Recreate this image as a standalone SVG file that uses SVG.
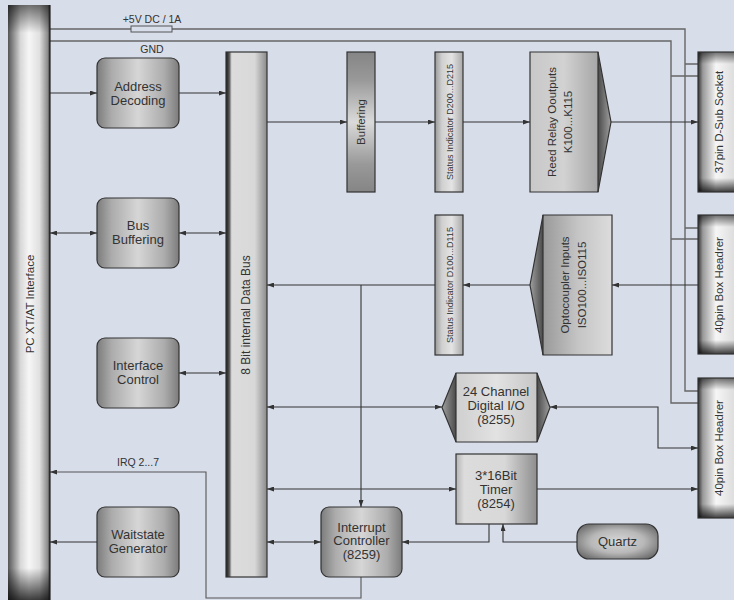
<svg xmlns="http://www.w3.org/2000/svg" width="734" height="600" viewBox="0 0 734 600">
<defs>
<style>
text{font-family:"Liberation Sans",Arial,sans-serif;fill:#333;}
.bt{font-size:13px;text-anchor:middle;}
.sm{font-size:10.5px;text-anchor:middle;}
.rt{font-size:11.5px;text-anchor:middle;}
.st{font-size:9.5px;text-anchor:middle;}
.ol{stroke:#333;stroke-width:1.2;}
.ln{fill:none;stroke:#333;stroke-width:1.1;}
.pw{fill:none;stroke:#666;stroke-width:1.4;}
</style>
<marker id="ah" viewBox="0 0 7 5" refX="7" refY="2.5" markerWidth="7" markerHeight="5" markerUnits="userSpaceOnUse" orient="auto-start-reverse"><path d="M0,0 L7,2.5 L0,5 z" fill="#333"/></marker>
<linearGradient id="gBox" x1="0" y1="0" x2="1" y2="0">
<stop offset="0" stop-color="#7c7c7c"/><stop offset="0.18" stop-color="#acacac"/><stop offset="0.5" stop-color="#d6d6d6"/><stop offset="0.82" stop-color="#acacac"/><stop offset="1" stop-color="#7c7c7c"/></linearGradient>
<linearGradient id="gPC" x1="0" y1="0" x2="1" y2="0">
<stop offset="0" stop-color="#555"/><stop offset="0.3" stop-color="#d8d8d8"/><stop offset="0.5" stop-color="#f6f6f6"/><stop offset="0.75" stop-color="#e0e0e0"/><stop offset="0.95" stop-color="#8a8a8a"/><stop offset="1" stop-color="#222"/></linearGradient>
<linearGradient id="gEndT" x1="0" y1="0" x2="0" y2="1">
<stop offset="0" stop-color="#000" stop-opacity="0.55"/><stop offset="1" stop-color="#000" stop-opacity="0"/></linearGradient>
<linearGradient id="gEndB" x1="0" y1="0" x2="0" y2="1">
<stop offset="0" stop-color="#000" stop-opacity="0"/><stop offset="1" stop-color="#000" stop-opacity="0.75"/></linearGradient>
<linearGradient id="gBus" x1="0" y1="0" x2="1" y2="0">
<stop offset="0" stop-color="#1a1a1a"/><stop offset="0.08" stop-color="#555"/><stop offset="0.14" stop-color="#dcdcdc"/><stop offset="0.7" stop-color="#d8d8d8"/><stop offset="1" stop-color="#8a8a8a"/></linearGradient>
<linearGradient id="gBuf" x1="0" y1="0" x2="0" y2="1">
<stop offset="0" stop-color="#858585"/><stop offset="0.2" stop-color="#999"/><stop offset="0.5" stop-color="#dadada"/><stop offset="0.8" stop-color="#999"/><stop offset="1" stop-color="#858585"/></linearGradient>
<linearGradient id="gStat" x1="0" y1="0" x2="1" y2="0">
<stop offset="0" stop-color="#999"/><stop offset="0.25" stop-color="#d0d0d0"/><stop offset="0.6" stop-color="#e4e4e4"/><stop offset="1" stop-color="#a8a8a8"/></linearGradient>
<linearGradient id="gConn" x1="0" y1="0" x2="1" y2="0">
<stop offset="0" stop-color="#333"/><stop offset="0.12" stop-color="#999"/><stop offset="0.45" stop-color="#f6f6f6"/><stop offset="1" stop-color="#d8d8d8"/></linearGradient>
<linearGradient id="gReed" x1="0" y1="0" x2="1" y2="0">
<stop offset="0" stop-color="#c8c8c8"/><stop offset="0.5" stop-color="#d2d2d2"/><stop offset="1" stop-color="#a6a6a6"/></linearGradient>
<linearGradient id="gOpto" x1="0" y1="0" x2="1" y2="0">
<stop offset="0" stop-color="#999"/><stop offset="0.5" stop-color="#c4c4c4"/><stop offset="1" stop-color="#dcdcdc"/></linearGradient>
<linearGradient id="gTriR" x1="0" y1="0" x2="1" y2="0">
<stop offset="0" stop-color="#4a4a4a"/><stop offset="1" stop-color="#a0a0a0"/></linearGradient>
<linearGradient id="gTriL" x1="0" y1="0" x2="1" y2="0">
<stop offset="0" stop-color="#a0a0a0"/><stop offset="1" stop-color="#4a4a4a"/></linearGradient>
<linearGradient id="gDio" x1="0" y1="0" x2="1" y2="0">
<stop offset="0" stop-color="#cfcfcf"/><stop offset="0.5" stop-color="#e2e2e2"/><stop offset="1" stop-color="#c6c6c6"/></linearGradient>
<linearGradient id="gTim" x1="0" y1="0" x2="1" y2="0">
<stop offset="0" stop-color="#b4b4b4"/><stop offset="0.1" stop-color="#dcdcdc"/><stop offset="0.6" stop-color="#d8d8d8"/><stop offset="1" stop-color="#8e8e8e"/></linearGradient>
<radialGradient id="gQ" cx="0.5" cy="0.5" r="0.6">
<stop offset="0" stop-color="#d8d8d8"/><stop offset="0.55" stop-color="#b8b8b8"/><stop offset="1" stop-color="#6e6e6e"/></radialGradient>
</defs>
<rect x="0" y="0" width="734" height="600" fill="#d7dde9"/>

<g id="connectors">
<path class="pw" d="M50,29 H685 V391 H698 M685,64 H698 M685,228 H698"/>
<path class="pw" d="M50,41 H671 V403 H698 M671,76 H698 M671,239 H698"/>
<rect x="131" y="26" width="41" height="6" fill="#d7dde9" stroke="#555" stroke-width="1"/>
<text class="sm" x="152" y="23">+5V DC / 1A</text>
<text class="sm" x="152" y="52.5">GND</text>
<path class="ln" d="M50,93 H97" marker-end="url(#ah)"/>
<path class="ln" d="M179,93 H226" marker-end="url(#ah)"/>
<path class="ln" d="M50,233 H97" marker-start="url(#ah)" marker-end="url(#ah)"/>
<path class="ln" d="M179,233 H226" marker-start="url(#ah)" marker-end="url(#ah)"/>
<path class="ln" d="M179,373 H226" marker-start="url(#ah)" marker-end="url(#ah)"/>
<path class="ln" style="stroke:#555" d="M361,577 V598 H206 V472 H50" marker-end="url(#ah)"/>
<text class="sm" x="138" y="466">IRQ 2...7</text>
<path class="ln" d="M97,542 H50" marker-end="url(#ah)"/>
<path class="ln" d="M267,122 H347" marker-end="url(#ah)"/>
<path class="ln" d="M375,122 H435" marker-end="url(#ah)"/>
<path class="ln" d="M463,122 H530" marker-end="url(#ah)"/>
<path class="ln" d="M611,122 H698" marker-end="url(#ah)"/>
<path class="ln" d="M698,285 H612" marker-end="url(#ah)"/>
<path class="ln" d="M530,285 H463" marker-end="url(#ah)"/>
<path class="ln" d="M435,285 H267" marker-end="url(#ah)"/>
<path class="ln" d="M361,285 V507" marker-end="url(#ah)"/>
<path class="ln" d="M267,407 H442" marker-start="url(#ah)" marker-end="url(#ah)"/>
<path class="ln" d="M550,407 H658 V448 H698" marker-start="url(#ah)" marker-end="url(#ah)"/>
<path class="ln" d="M267,489 H456" marker-start="url(#ah)" marker-end="url(#ah)"/>
<path class="ln" d="M537,489 H698" marker-end="url(#ah)"/>
<path class="ln" d="M267,542 H321" marker-start="url(#ah)" marker-end="url(#ah)"/>
<path class="ln" d="M489,524 V542 H402" marker-end="url(#ah)"/>
<path class="ln" d="M577,542 H503 V524" marker-end="url(#ah)"/>
</g>

<g id="pc">
<rect x="8" y="5" width="42" height="600" fill="url(#gPC)"/>
<rect x="8" y="5" width="42" height="28" fill="url(#gEndT)"/>
<rect x="8" y="568" width="42" height="32" fill="url(#gEndB)"/>
<line x1="50" y1="5" x2="50" y2="600" stroke="#222" stroke-width="1.2"/>
<text class="rt" transform="translate(30,304) rotate(-90)" dy="4">PC XT/AT Interface</text>
</g>

<g id="addr">
<rect class="ol" x="97" y="58" width="82" height="70" rx="8" fill="url(#gBox)"/>
<text class="bt" x="138" y="90.5">Address</text><text class="bt" x="138" y="104.5">Decoding</text>
</g>
<g id="busbuf">
<rect class="ol" x="97" y="198" width="82" height="70" rx="8" fill="url(#gBox)"/>
<text class="bt" x="138" y="229.5">Bus</text><text class="bt" x="138" y="243.5">Buffering</text>
</g>
<g id="ifctl">
<rect class="ol" x="97" y="338" width="82" height="70" rx="8" fill="url(#gBox)"/>
<text class="bt" x="138" y="369.5">Interface</text><text class="bt" x="138" y="383.5">Control</text>
</g>
<g id="wait">
<rect class="ol" x="97" y="507" width="82" height="70" rx="8" fill="url(#gBox)"/>
<text class="bt" x="138" y="538.5">Waitstate</text><text class="bt" x="138" y="552.5">Generator</text>
</g>

<g id="bus">
<rect class="ol" x="226" y="52" width="41" height="525" fill="url(#gBus)"/>
<text class="rt" style="font-size:12px" transform="translate(246,315) rotate(-90)" dy="4">8 Bit internal Data Bus</text>
</g>

<g id="buffering">
<rect class="ol" x="347" y="52" width="28" height="140" fill="url(#gBuf)"/>
<text class="rt" transform="translate(361,122) rotate(-90)" dy="4">Buffering</text>
</g>
<g id="stat2">
<rect class="ol" x="435" y="52" width="28" height="140" fill="url(#gStat)"/>
<text class="st" transform="translate(449,122) rotate(-90)" dy="3.5" textLength="116" lengthAdjust="spacingAndGlyphs">Status Indicator D200...D215</text>
</g>
<g id="reed">
<rect x="530" y="52" width="68" height="140" fill="url(#gReed)"/>
<polygon points="598,52 611,122 598,192" fill="url(#gTriR)"/>
<polygon class="ol" points="530,52 598,52 611,122 598,192 530,192" fill="none"/>
<line class="ol" x1="598" y1="52" x2="598" y2="192"/>
<text class="rt" transform="translate(552,122) rotate(-90)" dy="4">Reed Relay Ooutputs</text>
<text class="rt" transform="translate(568,122) rotate(-90)" dy="4">K100...K115</text>
</g>

<g id="stat1">
<rect class="ol" x="435" y="215" width="28" height="140" fill="url(#gStat)"/>
<text class="st" transform="translate(449,285) rotate(-90)" dy="3.5" textLength="116" lengthAdjust="spacingAndGlyphs">Status Indicator D100...D115</text>
</g>
<g id="opto">
<rect x="543" y="215" width="69" height="140" fill="url(#gOpto)"/>
<polygon points="543,215 530,285 543,355" fill="url(#gTriL)"/>
<polygon class="ol" points="543,215 612,215 612,355 543,355 530,285" fill="none"/>
<line class="ol" x1="543" y1="215" x2="543" y2="355"/>
<text class="rt" transform="translate(565,285) rotate(-90)" dy="4">Optocoupler Inputs</text>
<text class="rt" transform="translate(582,285) rotate(-90)" dy="4">ISO100...ISO115</text>
</g>

<g id="dio">
<rect x="456" y="373" width="81" height="69" fill="url(#gDio)"/>
<polygon points="456,373 442,407.5 456,442" fill="url(#gTriL)"/>
<polygon points="537,373 550,407.5 537,442" fill="url(#gTriR)"/>
<polygon class="ol" points="456,373 537,373 550,407.5 537,442 456,442 442,407.5" fill="none"/>
<line class="ol" x1="456" y1="373" x2="456" y2="442"/>
<line class="ol" x1="537" y1="373" x2="537" y2="442"/>
<text class="bt" x="496" y="396">24 Channel</text><text class="bt" x="496" y="410">Digital I/O</text><text class="bt" x="496" y="424">(8255)</text>
</g>
<g id="timer">
<rect class="ol" x="456" y="454" width="81" height="70" fill="url(#gTim)"/>
<text class="bt" x="496" y="479.5">3*16Bit</text><text class="bt" x="496" y="493.5">Timer</text><text class="bt" x="496" y="507.5">(8254)</text>
</g>
<g id="intc">
<rect class="ol" x="321" y="507" width="81" height="70" rx="8" fill="url(#gBox)"/>
<text class="bt" x="361.5" y="531.5">Interrupt</text><text class="bt" x="361.5" y="545">Controller</text><text class="bt" x="361.5" y="558.5">(8259)</text>
</g>
<g id="quartz">
<rect class="ol" x="577" y="524" width="81" height="35" rx="12" fill="url(#gQ)"/>
<text class="bt" x="617.5" y="545.5">Quartz</text>
</g>

<g id="dsub">
<rect x="698" y="52" width="40" height="140" fill="url(#gConn)"/>
<rect x="698" y="52" width="40" height="12" fill="url(#gEndT)"/>
<rect x="698" y="178" width="40" height="14" fill="url(#gEndB)"/>
<rect class="ol" x="698" y="52" width="40" height="140" fill="none"/>
<text class="rt" transform="translate(719,122) rotate(-90)" dy="4">37pin D-Sub Socket</text>
</g>
<g id="hdr1">
<rect x="698" y="215" width="40" height="139" fill="url(#gConn)"/>
<rect x="698" y="215" width="40" height="12" fill="url(#gEndT)"/>
<rect x="698" y="340" width="40" height="14" fill="url(#gEndB)"/>
<rect class="ol" x="698" y="215" width="40" height="139" fill="none"/>
<text class="rt" transform="translate(719,285) rotate(-90)" dy="4">40pin Box Headrer</text>
</g>
<g id="hdr2">
<rect x="698" y="378" width="40" height="140" fill="url(#gConn)"/>
<rect x="698" y="378" width="40" height="12" fill="url(#gEndT)"/>
<rect x="698" y="504" width="40" height="14" fill="url(#gEndB)"/>
<rect class="ol" x="698" y="378" width="40" height="140" fill="none"/>
<text class="rt" transform="translate(719,448) rotate(-90)" dy="4">40pin Box Headrer</text>
</g>
</svg>
